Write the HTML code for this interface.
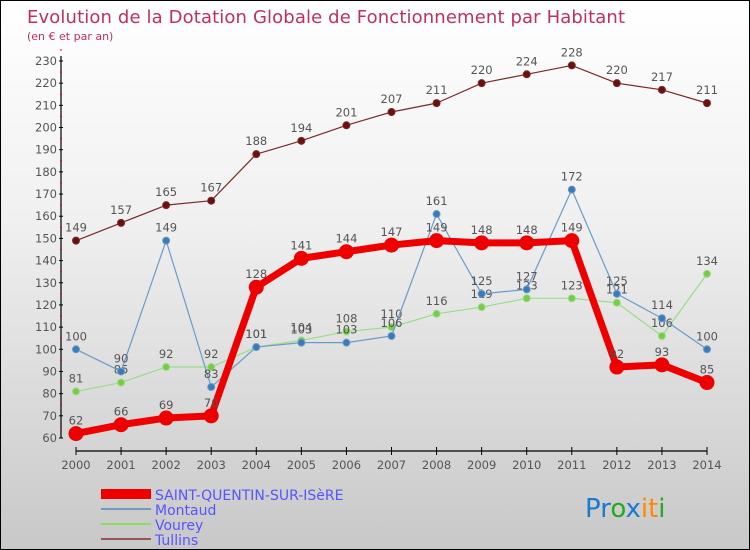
<!DOCTYPE html>
<html><head><meta charset="utf-8"><style>
body{margin:0;}
#wrap{position:relative;width:748px;height:548px;border:1px solid #000;background:linear-gradient(#fff,#f0f0f0 40%,#c8c8c8);font-family:"DejaVu Sans","Liberation Sans",sans-serif;overflow:hidden}
svg text{font-family:"DejaVu Sans","Liberation Sans",sans-serif}
</style></head><body>
<div id="wrap">
<svg id="chart" width="748" height="548">
<text x="26" y="22" font-size="18" fill="#c0305a" textLength="598">Evolution de la Dotation Globale de Fonctionnement par Habitant</text>
<text x="26" y="39" font-size="11" fill="#c0305a">(en € et par an)</text>
<g id="axes"></g><g id="series"></g>
<g>
<rect x="100" y="488" width="50" height="10" fill="#e00"/>
<text x="154" y="499" font-size="14" fill="#55f">SAINT-QUENTIN-SUR-ISèRE</text>
<rect x="100" y="507" width="50" height="2" fill="#79b"/>
<text x="154" y="514" font-size="14" fill="#55f">Montaud</text>
<rect x="100" y="522" width="50" height="2" fill="#8d6"/>
<text x="154" y="529" font-size="14" fill="#55f">Vourey</text>
<rect x="100" y="537" width="50" height="2" fill="#955"/>
<text x="154" y="544" font-size="14" fill="#55f">Tullins</text>
</g>
<text x="584" y="516" font-size="26"><tspan fill="#1a7ad0">Pr</tspan><tspan fill="#2a2">o</tspan><tspan fill="#1a7ad0">x</tspan><tspan fill="#f80">it</tspan><tspan fill="#2a2">i</tspan></text>
</svg>
</div>
<script>
const years=[2000,2001,2002,2003,2004,2005,2006,2007,2008,2009,2010,2011,2012,2013,2014];
const yTicks=[60,70,80,90,100,110,120,130,140,150,160,170,180,190,200,210,220,230];
const tullins=[149,157,165,167,188,194,201,207,211,220,224,228,220,217,211];
const montaud=[100,90,149,83,101,103,103,106,161,125,127,172,125,114,100];
const vourey=[81,85,92,92,101,104,108,110,116,119,123,123,121,106,134];
const stq=[62,66,69,70,128,141,144,147,149,148,148,149,92,93,85];
const NS='http://www.w3.org/2000/svg';
const x=i=>75+(706-75)*i/(years.length-1);
const y=v=>437-(v-60)*(437-60)/(230-60);
function mk(t,a,p){const e=document.createElementNS(NS,t);for(const k in a)e.setAttribute(k,a[k]);p.appendChild(e);return e;}
const ax=document.getElementById('axes');
const yl=mk('line',{x1:60,y1:55,x2:60,y2:437,stroke:'#000','stroke-width':1.2},ax);


yTicks.forEach(v=>{
 mk('line',{x1:58,x2:62,y1:y(v),y2:y(v),stroke:'#000'},ax);
 mk('line',{x1:59,x2:61,y1:y(v+5),y2:y(v+5),stroke:'#e00'},ax);
 const t=mk('text',{x:56,y:y(v)+4,'font-size':11.5,fill:'#555','text-anchor':'end'},ax);t.textContent=v;
 
 
});
const xl=mk('line',{x1:75,y1:450,x2:706,y2:450,stroke:'#000','stroke-width':1.2},ax);


years.forEach((yr,i)=>{
 mk('line',{x1:x(i),x2:x(i),y1:446,y2:454,stroke:'#000'},ax);
 const t=mk('text',{x:x(i),y:468,'font-size':11.5,fill:'#555','text-anchor':'middle'},ax);t.textContent=yr;
 
 
});
const sg=document.getElementById('series');
function draw(d,name,col,w,r,dot){
 const g=mk('g',{},sg);
 
 
 mk('polyline',{points:d.map((v,i)=>x(i)+','+y(v)).join(' '),fill:'none',stroke:col,'stroke-width':w,'stroke-linejoin':'round'},g);
 d.forEach((v,i)=>{
  const c=mk('circle',{cx:x(i),cy:y(v),r:r,fill:dot,stroke:col,'stroke-width':1},g);
  
  
  const t=mk('text',{x:x(i),y:y(v)-9,'font-size':11.5,fill:'#555','text-anchor':'middle'},g);t.textContent=v;
  
  
 });
}
draw(tullins,'tullins','#7a2a2a',1.2,3.5,'#6a1010');
draw(vourey,'vourey','#9d8',1.2,3.5,'#7c4');
draw(montaud,'montaud','#6a9cc8',1.2,3.5,'#3a7ab8');
draw(stq,'saint-quentin','#e00',7,7,'#e00');
</script>
</body></html>
